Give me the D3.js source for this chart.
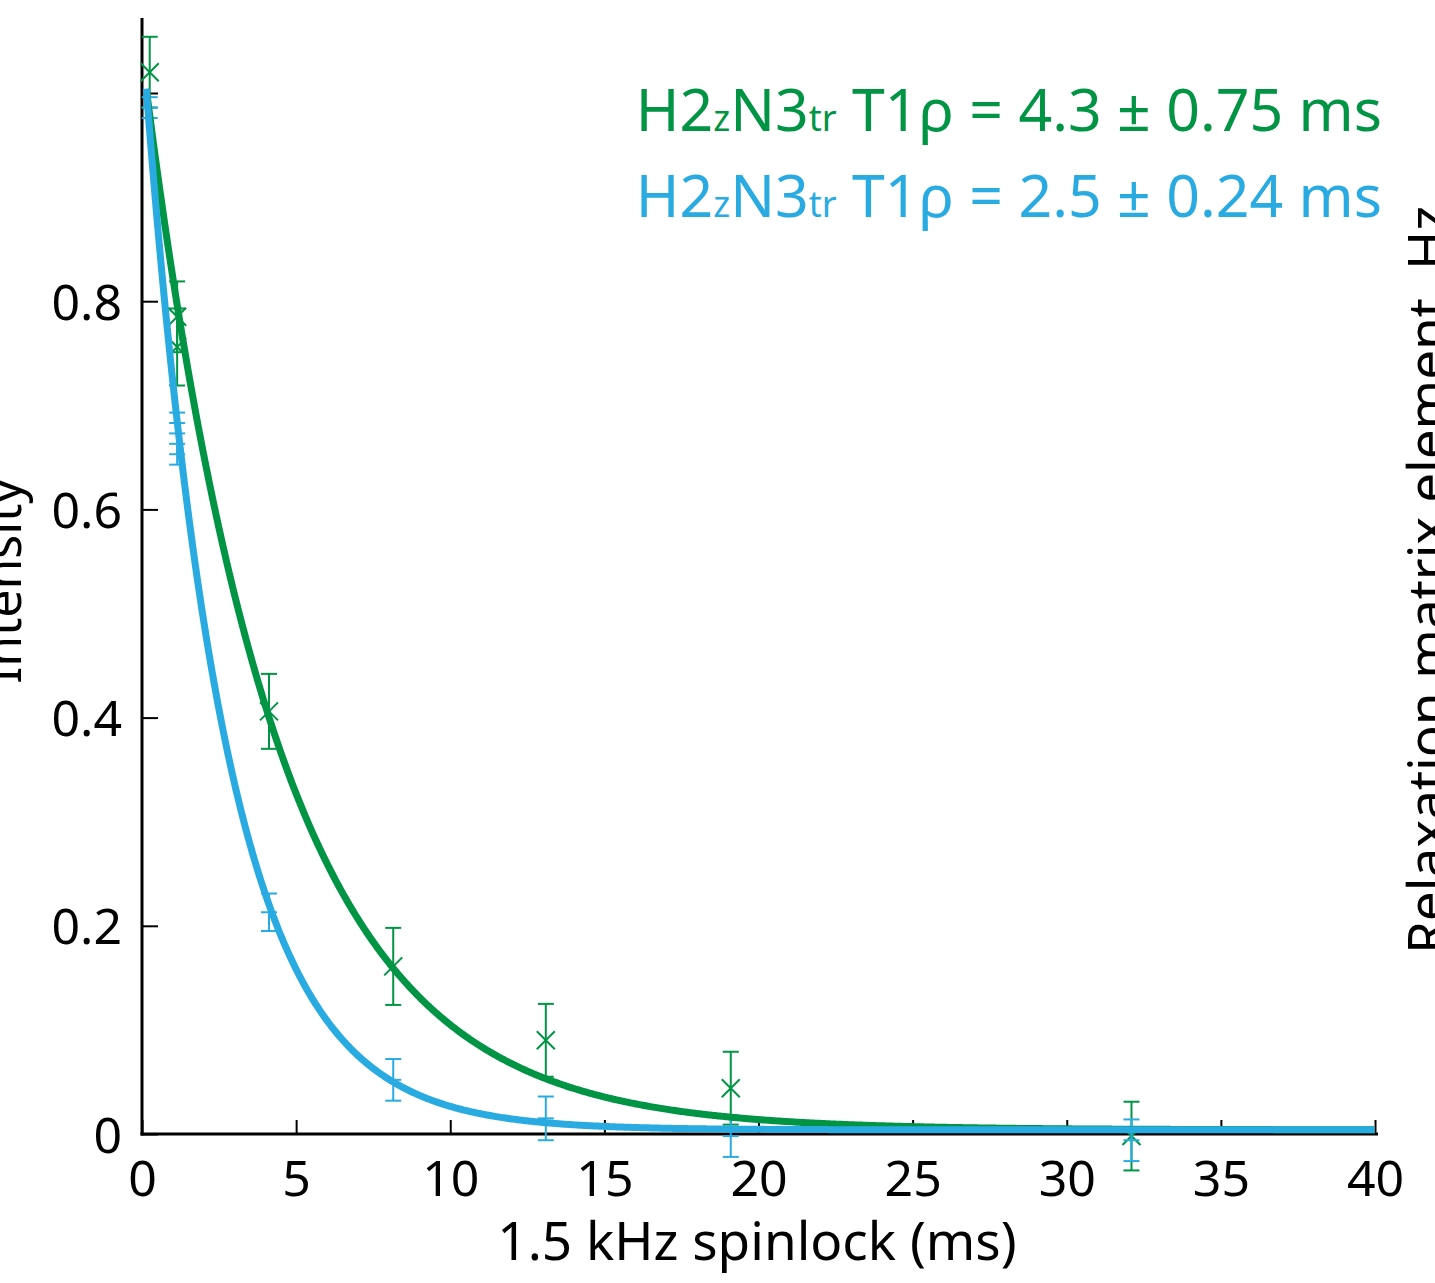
<!DOCTYPE html>
<html lang="en">
<head>
  <meta charset="UTF-8">
  <title>T1rho spinlock decay</title>
  <script src="https://d3js.org/d3.v7.min.js"></script>
  <style>
    body { margin: 0; background: white; }
    svg { display: block; }
    text { font-family: 'Noto Sans', sans-serif; fill: black; }
  </style>
</head>
<body>
  <svg width="1435" height="1283"></svg>

  <script>
    // spinlock times (ms) - two replicates at ~1.1 ms
    const times = [0.25, 1.14, 1.14, 4.12, 8.15, 13.1, 19.1, 32.1];

    const greenVals = [1.020, 0.785, 0.756, 0.406, 0.161, 0.090, 0.044, -0.002];
    const greenErr  = [0.034, 0.034, 0.037, 0.036, 0.037, 0.035, 0.035, 0.033];

    const blueVals = [0.986, 0.673, 0.663, 0.213, 0.052, 0.015, -0.002, -0.006];
    const blueErr  = [0.010, 0.020, 0.020, 0.018, 0.020, 0.021, 0.020, 0.020];

    // fitted decays: exp(-(t - t0)/tau) + offset
    const fitStart = 0.14;
    const fitOffset = 0.004;
    const greenTau = 4.3;
    const blueTau = 2.6;

    const xTicks = [0, 5, 10, 15, 20, 25, 30, 35, 40];
    const yTicks = [0, 0.2, 0.4, 0.6, 0.8, 1.0];
    const yTickLabels = ["0", "0.2", "0.4", "0.6", "0.8", ""];

    const green = "#009444", blue = "#29abe2";

    const svg = d3.select("svg");

    const x = d3.scaleLinear().domain([0, 40]).range([142, 1375]);
    const y = d3.scaleLinear().domain([0, 1]).range([1134, 93]);

    // fit curves
    const tGrid = d3.range(fitStart, 40.001, 0.05);
    const line = d3.line().x(d => x(d[0])).y(d => y(d[1]));

    function fitCurve(tau) {
      return tGrid.map(t => [t, Math.exp(-(t - fitStart) / tau) + fitOffset]);
    }

    // axes
    const axisG = svg.append("g");
    axisG.append("line")
      .attr("x1", x(0)).attr("x2", x(0))
      .attr("y1", 18).attr("y2", y(0) + 1.5)
      .attr("stroke", "black").attr("stroke-width", 3);
    axisG.append("line")
      .attr("x1", x(0) - 1.5).attr("x2", 1378)
      .attr("y1", y(0)).attr("y2", y(0))
      .attr("stroke", "black").attr("stroke-width", 3);

    const xAxis = svg.append("g")
      .attr("transform", `translate(0,${y(0)})`)
      .call(d3.axisBottom(x).tickValues(xTicks).tickSize(-14).tickPadding(28).tickFormat(d3.format("d")));
    const yAxis = svg.append("g")
      .attr("transform", `translate(${x(0)},0)`)
      .call(d3.axisLeft(y).tickValues(yTicks).tickSize(-16).tickPadding(20)
        .tickFormat((d, i) => yTickLabels[i]));

    [xAxis, yAxis].forEach(a => {
      a.select(".domain").remove();
      a.selectAll(".tick line").attr("stroke", "black").attr("stroke-width", 2);
      a.selectAll(".tick text")
        .attr("fill", "black")
        .style("font-family", "'Noto Sans', sans-serif")
        .style("font-size", "50px");
    });
    yAxis.selectAll(".tick text").attr("dy", "0.36em");
    xAxis.selectAll(".tick text").attr("dy", "0.68em");

    // axis labels
    svg.append("text")
      .attr("x", 757).attr("y", 1260)
      .attr("text-anchor", "middle")
      .style("font-size", "53px")
      .text("1.5 kHz spinlock (ms)");

    svg.append("text")
      .attr("transform", "translate(21,581) rotate(-90)")
      .attr("text-anchor", "middle")
      .style("font-size", "50px")
      .text("Intensity");

    svg.append("text")
      .attr("transform", "translate(1446,580) rotate(-90)")
      .attr("text-anchor", "middle")
      .style("font-size", "53px")
      .text("Relaxation matrix element, Hz");

    // error bars + markers
    function drawPoints(vals, errs, color, marker) {
      const g = svg.append("g").attr("stroke", color).attr("stroke-width", 2).attr("fill", "none");
      const pts = times.map((t, i) => ({ t, v: vals[i], e: errs[i] }));
      const cap = 8;
      pts.forEach(p => {
        const cx = x(p.t), top = y(p.v + p.e), bot = y(p.v - p.e), cy = y(p.v);
        g.append("line").attr("x1", cx).attr("x2", cx).attr("y1", top).attr("y2", bot);
        g.append("line").attr("x1", cx - cap).attr("x2", cx + cap).attr("y1", top).attr("y2", top);
        g.append("line").attr("x1", cx - cap).attr("x2", cx + cap).attr("y1", bot).attr("y2", bot);
        if (marker === "x") {
          const m = 9;
          g.append("line").attr("x1", cx - m).attr("x2", cx + m).attr("y1", cy - m).attr("y2", cy + m);
          g.append("line").attr("x1", cx - m).attr("x2", cx + m).attr("y1", cy + m).attr("y2", cy - m);
        } else {
          g.append("line").attr("x1", cx - cap).attr("x2", cx + cap).attr("y1", cy).attr("y2", cy);
        }
      });
    }

    drawPoints(greenVals, greenErr, green, "x");
    drawPoints(blueVals, blueErr, blue, "+");

    svg.append("path")
      .datum(fitCurve(greenTau))
      .attr("d", line)
      .attr("fill", "none").attr("stroke", green).attr("stroke-width", 7);
    svg.append("path")
      .datum(fitCurve(blueTau))
      .attr("d", line)
      .attr("fill", "none").attr("stroke", blue).attr("stroke-width", 7);

    // legend
    const legend = [
      { color: green, text: "4.3 \u00b1 0.75 ms", y: 131 },
      { color: blue, text: "2.5 \u00b1 0.24 ms", y: 217 }
    ];
    legend.forEach(l => {
      const t = svg.append("text")
        .attr("x", 1382).attr("y", l.y)
        .attr("text-anchor", "end")
        .style("font-size", "59px")
        .style("fill", l.color);
      t.append("tspan").text("H2");
      t.append("tspan").style("font-size", "36px").text("z");
      t.append("tspan").text("N3");
      t.append("tspan").style("font-size", "36px").text("tr");
      t.append("tspan").text(" T1\u03c1 = " + l.text);
    });
  </script>
</body>
</html>
